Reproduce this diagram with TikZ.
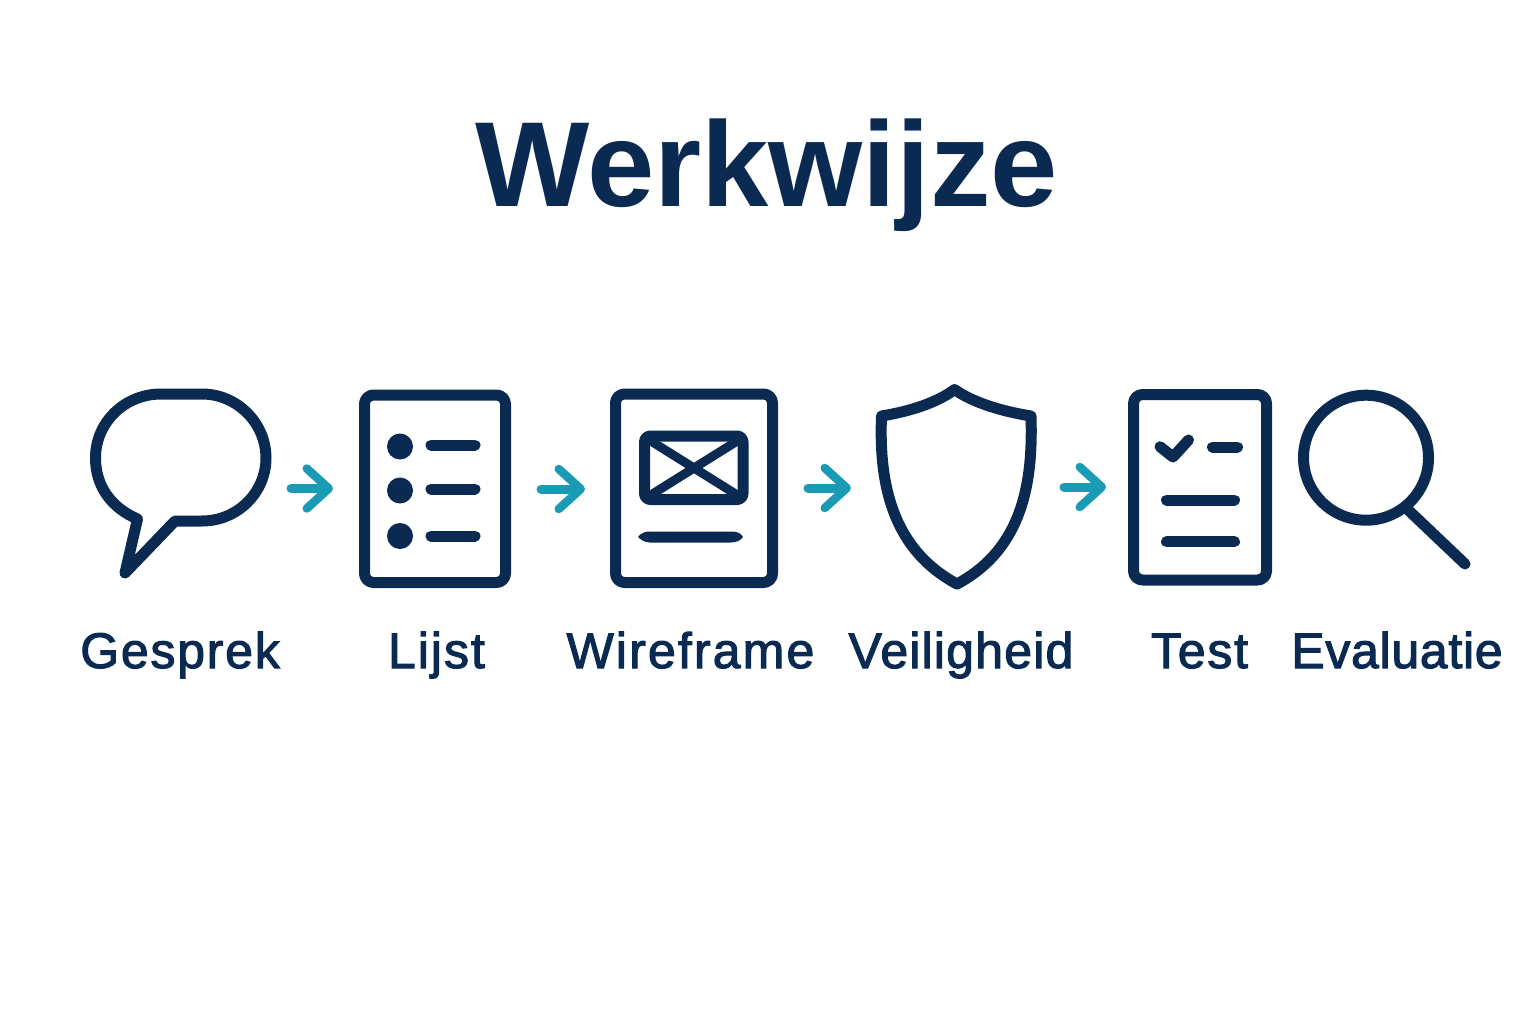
\documentclass[tikz,border=0pt]{standalone}
\usepackage{fontspec}
\usetikzlibrary{arrows.meta}
\newfontfamily\titlefont{Liberation Sans Bold}
\newfontfamily\labelfont[RawFeature={embolden=2.2}]{Liberation Sans}
\definecolor{navy}{HTML}{0B2A52}
\definecolor{teal}{HTML}{1A9BB5}
\tikzset{
  icon/.style={draw=navy,line width=11pt,line join=round,line cap=round},
  thinbar/.style={draw=navy,line width=11pt,line cap=round},
  crossbar/.style={draw=navy,line width=9pt},
  flow/.style={draw=teal,line width=9pt,line cap=round,line join=round,
    -{Straight Barb[length=22pt,width=40pt,round,line width=8.5pt]}},
  lbl/.style={inner sep=0pt,anchor=base,text=navy,font=\labelfont\fontsize{50}{56}\selectfont},
  ttl/.style={inner sep=0pt,anchor=base,text=navy,font=\titlefont\fontsize{121}{130}\selectfont},
  dot/.style={fill=navy,draw=none}
}
\newcommand{\spaced}[2]{\addfontfeatures{LetterSpace=#1}#2}
\begin{document}
\begin{tikzpicture}[x=1pt,y=-1pt]
\useasboundingbox (0,0) rectangle (1536,1024);
\node[ttl] (title) at (766.5,207) {Werkwijze};
% bubble
\draw[icon] (161,394) -- (202,394) .. controls (237,394) and (266,423) .. (266,458)
  .. controls (266,492) and (238,521) .. (202,521) -- (175,521) -- (125,573) -- (137.5,519)
  .. controls (112,508) and (95.5,487) .. (95.5,458) .. controls (95.5,422) and (125,394) .. (161,394) -- cycle;
% list
\draw[icon,rounded corners=9pt] (364.5,395) rectangle (505.5,582.5);
\foreach \y in {446.5,490.5,536}{
  \fill[dot] (400,\y) circle (13);
}
\foreach \y in {445,489,536}{ \draw[thinbar] (431,\y) -- (475,\y); }
% wireframe
\draw[icon,rounded corners=9pt] (615.5,394) rectangle (772.5,582.5);
\draw[icon,rounded corners=6pt] (644.5,436) rectangle (743,499.5);
\draw[crossbar] (646,438) -- (742,498);
\draw[crossbar] (742,438) -- (646,498);
\fill[navy] (638,537) .. controls (641,533) and (645,531.5) .. (650,531.5) -- (731,531.5)
  .. controls (737,531.5) and (741,533) .. (743,537) .. controls (741,540) and (737,542.5) .. (731,542.5)
  -- (650,542.5) .. controls (645,542.5) and (641,540) .. (638,537) -- cycle;
% shield
\draw[icon] (954.5,389.5) .. controls (938,402) and (912,411) .. (881.5,416)
  .. controls (879,480) and (890,548) .. (957,584)
  .. controls (1024,548) and (1033,480) .. (1031,416)
  .. controls (1000,411) and (972,402) .. (954.5,389.5) -- cycle;
% test
\draw[icon,rounded corners=9pt] (1133.5,394.5) rectangle (1266.5,580);
\draw[icon] (1160,446.7) -- (1173,457) -- (1188.5,440);
\draw[thinbar] (1212.5,447) -- (1237.5,447);
\draw[thinbar] (1166.5,500) -- (1234.5,500);
\draw[thinbar] (1166.5,541.7) -- (1234.5,541.7);
% magnifier
\node[draw=navy,line width=11pt,circle,minimum size=125pt,inner sep=0pt] (lens) at (1366,457.7) {};
\coordinate (hend) at (1465,564);
\draw[icon] (lens.-51) -- (hend);
% arrows
\coordinate (a1s) at (291,488.5); \coordinate (a1e) at (333,488.5);
\coordinate (a2s) at (541,489);   \coordinate (a2e) at (585,489);
\coordinate (a3s) at (808,488);   \coordinate (a3e) at (851,488);
\coordinate (a4s) at (1064,487);  \coordinate (a4e) at (1106,487);
\draw[flow] (a1s) -- (a1e);
\draw[flow] (a2s) -- (a2e);
\draw[flow] (a3s) -- (a3e);
\draw[flow] (a4s) -- (a4e);
% labels
\node[lbl] (l1) at (180,668) {\spaced{3.5}{Gesprek}};
\node[lbl] (l2) at (436.5,668) {\spaced{4}{Lijst}};
\node[lbl] (l3) at (690.5,668) {\spaced{4.3}{Wireframe}};
\node[lbl] (l4) at (961,668) {\spaced{2.4}{Veiligheid}};
\node[lbl] (l5) at (1199.5,668) {\spaced{3.6}{Test}};
\node[lbl] (l6) at (1397,668) {\spaced{1.4}{Evaluatie}};
\end{tikzpicture}
\end{document}
